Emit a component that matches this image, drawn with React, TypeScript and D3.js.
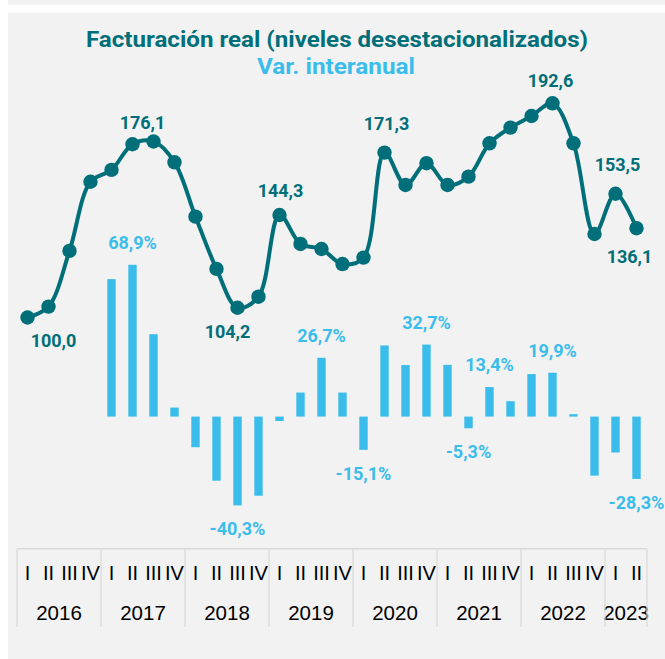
import React, { useEffect, useRef } from 'react';
import * as d3 from 'd3';

// datos trimestrales 2016-I .. 2023-II
const years = ['2016', '2017', '2018', '2019', '2020', '2021', '2022', '2023'];
const quartersPerYear = [4, 4, 4, 4, 4, 4, 4, 2];
const quarterNames = ['I', 'II', 'III', 'IV'];

// facturación real, niveles desestacionalizados (2016-I = 100)
const levels = [
  100.0, 104.7, 128.8, 158.7,
  163.8, 174.9, 176.1, 167.1,
  143.6, 121.0, 104.2, 109.0,
  144.3, 131.8, 129.6, 123.1,
  125.9, 171.3, 157.3, 166.7,
  157.3, 160.9, 175.3, 182.1,
  187.1, 192.6, 175.3, 136.1,
  153.5, 138.6,
];

// variación interanual (%)
const yoy = [
  null, null, null, null,
  62.4, 68.9, 37.4, 4.1,
  -13.9, -29.1, -40.3, -35.9,
  -2.0, 10.9, 26.7, 10.9,
  -15.1, 32.3, 23.4, 32.7,
  23.5, -5.3, 13.4, 7.0,
  19.3, 19.9, 1.1, -26.8,
  -16.3, -28.3,
];

const levelLabelIdx = [0, 6, 10, 12, 17, 25, 28, 29];
const levelLabelText = ['100,0', '176,1', '104,2', '144,3', '171,3', '192,6', '153,5', '136,1'];
const yoyLabelIdx = [5, 10, 14, 16, 19, 21, 22, 25, 29];

const TEAL = '#006f79';
const CYAN = '#3bbdec';

function App() {
  const ref = useRef(null);

  useEffect(() => {
    const svg = d3.select(ref.current);
    svg.selectAll('*').remove();

    const n = levels.length;
    const x = d3.scaleBand().domain(d3.range(n)).range([17, 647]);
    const cx = (i) => x(i) + x.bandwidth() / 2;
    const yLevel = d3.scaleLinear().domain([0, 230]).range([548.8, 16.8]);
    const yPct = d3.scaleLinear().domain([-60, 180]).range([548.8, 20]);

    // fondo
    svg.append('rect').attr('x', 8).attr('y', 0).attr('width', 657).attr('height', 4.7).attr('fill', '#f2f2f2');
    svg.append('rect').attr('x', 8).attr('y', 12.7).attr('width', 657).attr('height', 647).attr('fill', '#f2f2f2');

    // títulos
    svg.append('text')
      .attr('x', 337).attr('y', 47)
      .attr('text-anchor', 'middle')
      .attr('font-family', 'Roboto, sans-serif').attr('font-weight', 700).attr('font-size', 22)
      .attr('textLength', 502).attr('lengthAdjust', 'spacingAndGlyphs')
      .attr('fill', TEAL)
      .text('Facturación real (niveles desestacionalizados)');
    svg.append('text')
      .attr('x', 336).attr('y', 74)
      .attr('text-anchor', 'middle')
      .attr('font-family', 'Roboto, sans-serif').attr('font-weight', 700).attr('font-size', 22)
      .attr('textLength', 158).attr('lengthAdjust', 'spacingAndGlyphs')
      .attr('fill', CYAN)
      .text('Var. interanual');

    // barras
    const bw = x.bandwidth() * 0.4;
    const barData = yoy.map((v, i) => ({ v, i })).filter(d => d.v !== null);
    svg.append('g').selectAll('rect')
      .data(barData)
      .enter().append('rect')
      .attr('x', d => cx(d.i) - bw / 2)
      .attr('width', bw)
      .attr('y', d => yPct(Math.max(0, d.v)))
      .attr('height', d => Math.abs(yPct(d.v) - yPct(0)))
      .attr('fill', CYAN);

    const fmt = (v) => d3.format('.1f')(v).replace('.', ',').replace('−', '-') + '%';
    svg.append('g').selectAll('text')
      .data(yoyLabelIdx)
      .enter().append('text')
      .attr('x', i => cx(i))
      .attr('y', i => yoy[i] >= 0 ? yPct(yoy[i]) - 16 : yPct(yoy[i]) + 30)
      .attr('text-anchor', 'middle')
      .attr('font-family', 'Roboto, sans-serif').attr('font-weight', 700).attr('font-size', 18)
      .attr('fill', CYAN)
      .text(i => fmt(yoy[i]));

    // línea de niveles
    const line = d3.line()
      .x((d, i) => cx(i))
      .y(d => yLevel(d))
      .curve(d3.curveCatmullRom.alpha(0.5));
    svg.append('path')
      .datum(levels)
      .attr('d', line)
      .attr('fill', 'none')
      .attr('stroke', TEAL)
      .attr('stroke-width', 4);
    svg.append('g').selectAll('circle')
      .data(levels)
      .enter().append('circle')
      .attr('cx', (d, i) => cx(i))
      .attr('cy', d => yLevel(d))
      .attr('r', 7.2)
      .attr('fill', TEAL);

    const levelOffsets = [[26, 30], [-11, -12], [-10, 30], [1, -18], [2, -23], [-2, -16], [2, -23], [-7, 35]];
    svg.append('g').selectAll('text')
      .data(levelLabelIdx)
      .enter().append('text')
      .attr('x', (d, k) => cx(d) + levelOffsets[k][0])
      .attr('y', (d, k) => yLevel(levels[d]) + levelOffsets[k][1])
      .attr('text-anchor', 'middle')
      .attr('font-family', 'Roboto, sans-serif').attr('font-weight', 700).attr('font-size', 18)
      .attr('fill', TEAL)
      .text((d, k) => levelLabelText[k]);

    // eje de categorías (tabla trimestre / año)
    const axis = svg.append('g');
    axis.append('line')
      .attr('x1', 17).attr('x2', 647).attr('y1', 548.8).attr('y2', 548.8)
      .attr('stroke', '#d9d9d9').attr('stroke-width', 1.5);
    let start = 0;
    const bounds = [0];
    years.forEach((yr, k) => {
      const cnt = quartersPerYear[k];
      for (let q = 0; q < cnt; q++) {
        axis.append('text')
          .attr('x', cx(start + q)).attr('y', 580)
          .attr('text-anchor', 'middle')
          .attr('font-family', 'Liberation Sans, Arial, sans-serif').attr('font-size', 20)
          .attr('fill', '#000')
          .text(quarterNames[q]);
      }
      const x0 = x(start);
      const x1 = x(start + cnt - 1) + x.bandwidth();
      axis.append('text')
        .attr('x', (x0 + x1) / 2).attr('y', 620)
        .attr('text-anchor', 'middle')
        .attr('font-family', 'Liberation Sans, Arial, sans-serif').attr('font-size', 20.5)
        .attr('fill', '#000')
        .text(yr);
      start += cnt;
      bounds.push(start);
    });
    axis.selectAll('line.sep')
      .data(bounds)
      .enter().append('line')
      .attr('class', 'sep')
      .attr('x1', b => (b < n ? x(b) : x(n - 1) + x.bandwidth()))
      .attr('x2', b => (b < n ? x(b) : x(n - 1) + x.bandwidth()))
      .attr('y1', 548.8).attr('y2', 627)
      .attr('stroke', '#d9d9d9').attr('stroke-width', 1.2);
  }, []);

  return (
    <svg
      ref={ref}
      width={665}
      height={659}
      style={{ position: 'absolute', left: 0, top: 0, background: '#fff' }}
    />
  );
}

export default App;
